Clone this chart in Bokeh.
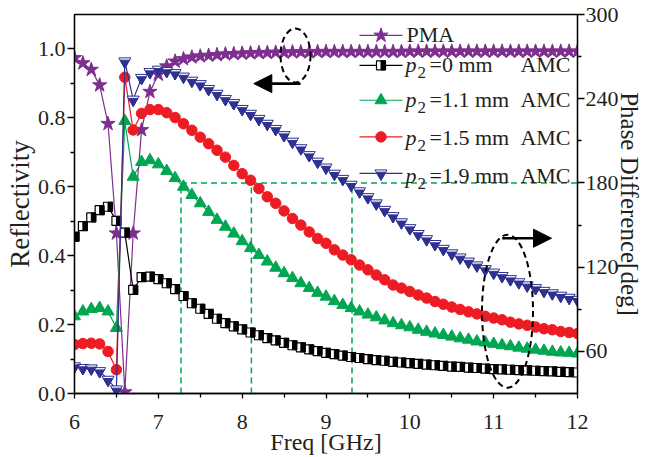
from math import sqrt

from bokeh.plotting import figure
from bokeh.models import (Range1d, LinearAxis, FixedTicker, PrintfTickFormatter,
                          Label, Arrow, NormalHead)
from bokeh.embed import file_html
from bokeh.resources import INLINE

# ---------------------------------------------------------------- data
freq = [6.0, 6.1, 6.2, 6.3, 6.4, 6.5, 6.6, 6.7, 6.8, 6.9,
        7.0, 7.1, 7.2, 7.3, 7.4, 7.5, 7.6, 7.7, 7.8, 7.9,
        8.0, 8.1, 8.2, 8.3, 8.4, 8.5, 8.6, 8.7, 8.8, 8.9,
        9.0, 9.1, 9.2, 9.3, 9.4, 9.5, 9.6, 9.7, 9.8, 9.9,
        10.0, 10.1, 10.2, 10.3, 10.4, 10.5, 10.6, 10.7, 10.8, 10.9,
        11.0, 11.1, 11.2, 11.3, 11.4, 11.5, 11.6, 11.7, 11.8, 11.9,
        12.0]

# reflectivity of the polarisation-mismatch absorber
pma = [0.974, 0.959, 0.940, 0.895, 0.783, 0.465, 0.004, 0.465, 0.765, 0.876,
       0.926, 0.950, 0.964, 0.971, 0.976, 0.979, 0.981, 0.983, 0.985, 0.986,
       0.987, 0.988, 0.989, 0.989, 0.990, 0.990, 0.991, 0.991, 0.991, 0.992,
       0.992, 0.992, 0.992, 0.992, 0.992, 0.992, 0.992, 0.992, 0.992, 0.992,
       0.993, 0.993, 0.993, 0.993, 0.993, 0.993, 0.993, 0.993, 0.993, 0.993,
       0.993, 0.993, 0.993, 0.993, 0.993, 0.993, 0.993, 0.993, 0.993, 0.993,
       0.993]

# AMC, p2 = 0 mm
amc_00 = [0.455, 0.486, 0.511, 0.532, 0.542, 0.501, 0.467, 0.301, 0.338, 0.339,
          0.332, 0.320, 0.303, 0.283, 0.262, 0.246, 0.231, 0.217, 0.204, 0.195,
          0.186, 0.177, 0.169, 0.161, 0.154, 0.147, 0.140, 0.134, 0.128, 0.123,
          0.118, 0.114, 0.110, 0.106, 0.103, 0.100, 0.097, 0.095, 0.092, 0.090,
          0.088, 0.086, 0.084, 0.082, 0.080, 0.078, 0.077, 0.075, 0.074, 0.072,
          0.071, 0.070, 0.069, 0.068, 0.067, 0.066, 0.065, 0.064, 0.063, 0.062,
          0.061]

# AMC, p2 = 1.1 mm
amc_11 = [0.224, 0.238, 0.245, 0.248, 0.238, 0.190, 0.791, 0.629, 0.672, 0.677,
          0.665, 0.646, 0.625, 0.600, 0.576, 0.552, 0.527, 0.504, 0.484, 0.464,
          0.442, 0.422, 0.402, 0.383, 0.365, 0.349, 0.335, 0.320, 0.306, 0.292,
          0.281, 0.268, 0.257, 0.248, 0.238, 0.229, 0.221, 0.212, 0.204, 0.198,
          0.192, 0.185, 0.179, 0.174, 0.170, 0.165, 0.160, 0.156, 0.151, 0.148,
          0.144, 0.140, 0.137, 0.133, 0.130, 0.127, 0.124, 0.121, 0.119, 0.118,
          0.116]

# AMC, p2 = 1.5 mm
amc_15 = [0.142, 0.145, 0.146, 0.144, 0.122, 0.069, 0.918, 0.765, 0.813, 0.824,
          0.824, 0.815, 0.801, 0.783, 0.764, 0.744, 0.725, 0.706, 0.686, 0.662,
          0.638, 0.619, 0.595, 0.571, 0.552, 0.530, 0.508, 0.489, 0.469, 0.450,
          0.436, 0.417, 0.402, 0.388, 0.373, 0.359, 0.344, 0.330, 0.315, 0.306,
          0.296, 0.286, 0.277, 0.267, 0.259, 0.251, 0.244, 0.237, 0.231, 0.224,
          0.219, 0.214, 0.207, 0.202, 0.198, 0.193, 0.188, 0.185, 0.180, 0.177,
          0.174]

# AMC, p2 = 1.9 mm
amc_19 = [0.079, 0.074, 0.073, 0.065, 0.040, 0.012, 0.964, 0.853, 0.916, 0.933,
          0.940, 0.936, 0.930, 0.920, 0.908, 0.898, 0.884, 0.870, 0.855, 0.843,
          0.826, 0.812, 0.797, 0.783, 0.768, 0.750, 0.731, 0.712, 0.692, 0.673,
          0.656, 0.638, 0.623, 0.606, 0.587, 0.570, 0.552, 0.533, 0.515, 0.497,
          0.480, 0.463, 0.448, 0.434, 0.420, 0.407, 0.395, 0.383, 0.372, 0.361,
          0.351, 0.341, 0.332, 0.323, 0.314, 0.306, 0.298, 0.291, 0.284, 0.278,
          0.272]

# 180 degree phase-difference guide and the frequencies where each AMC reaches it
guide_phase = 180
guide_freqs = [7.27, 8.11, 9.31]

x_ticks = [6, 7, 8, 9, 10, 11, 12]
x_minor = [6.5, 7.5, 8.5, 9.5, 10.5, 11.5]
y_ticks = [0.0, 0.2, 0.4, 0.6, 0.8, 1.0]
y_minor = [0.1, 0.3, 0.5, 0.7, 0.9]
phase_ticks = [60, 120, 180, 240, 300]
phase_minor = [90, 150, 210, 270]

# ---------------------------------------------------------------- style
TEXT = "#231F20"
PURPLE = "#7E2F8E"
GREEN = "#00A651"
RED = "#ED1C24"
NAVY = "#2E3192"
SERIF = "Liberation Serif"

W, H = 645, 457
ML, MR, MT, MB = 74, 68, 14, 63
X0, X1 = 6, 12
Y0, Y1 = 0, 1.1
P0, P1 = 30, 300

FW = W - ML - MR
FH = H - MT - MB
PX_X = FW / (X1 - X0)
PX_Y = FH / (Y1 - Y0)


def dx(px):
    return px / PX_X


def dy(px):
    return px / PX_Y


def at_x(px):
    """canvas pixel column -> frequency (used for annotation placement)"""
    return X0 + (px - ML) / PX_X


def at_y(py):
    """canvas pixel row -> reflectivity (used for annotation placement)"""
    return Y1 - (py - MT) / PX_Y


p = figure(width=W, height=H, x_range=Range1d(X0, X1), y_range=Range1d(Y0, Y1),
           output_backend="svg", toolbar_location=None,
           min_border_left=ML, min_border_right=MR,
           min_border_top=MT, min_border_bottom=MB)
p.extra_y_ranges = {"phase": Range1d(P0, P1)}
p.grid.visible = False
p.outline_line_color = "black"
p.outline_line_width = 1.3
p.background_fill_color = "white"
p.border_fill_color = "white"


def style_axis(ax, label_size):
    ax.axis_line_color = "black"
    ax.axis_line_width = 1.3
    ax.major_tick_line_color = "black"
    ax.major_tick_line_width = 1.3
    ax.minor_tick_line_color = "black"
    ax.minor_tick_line_width = 1.3
    ax.major_label_text_font = SERIF
    ax.major_label_text_font_size = "22px"
    ax.major_label_text_color = TEXT
    ax.axis_label_text_font = SERIF
    ax.axis_label_text_font_size = label_size
    ax.axis_label_text_font_style = "normal"
    ax.axis_label_text_color = TEXT


xa = p.xaxis[0]
xa.ticker = FixedTicker(ticks=x_ticks, minor_ticks=x_minor)
xa.axis_label = "Freq [GHz]"
style_axis(xa, "24px")
xa.major_tick_in, xa.major_tick_out = 0, 5
xa.minor_tick_in, xa.minor_tick_out = 0, 4
xa.major_label_standoff = 16
xa.axis_label_standoff = -3

ya = p.yaxis[0]
ya.ticker = FixedTicker(ticks=y_ticks, minor_ticks=y_minor)
ya.formatter = PrintfTickFormatter(format="%.1f")
ya.axis_label = "Reflectivity"
style_axis(ya, "27px")
ya.major_tick_in, ya.major_tick_out = 0, 7
ya.minor_tick_in, ya.minor_tick_out = 0, 4
ya.major_label_standoff = 2
ya.axis_label_standoff = 0

ra = LinearAxis(y_range_name="phase",
                ticker=FixedTicker(ticks=phase_ticks, minor_ticks=phase_minor),
                axis_label="Phase Difference[deg]")
style_axis(ra, "25px")
ra.major_tick_in, ra.major_tick_out = 0, 7
ra.minor_tick_in, ra.minor_tick_out = 0, 4
ra.major_label_standoff = 1
ra.axis_label_standoff = -6
p.add_layout(ra, "right")

# ---------------------------------------------------------------- guides
GUIDE = dict(line_color=GREEN, line_width=1.5, line_dash="6 4", y_range_name="phase")
p.segment(x0=guide_freqs, y0=[P0] * len(guide_freqs), x1=guide_freqs,
          y1=[guide_phase] * len(guide_freqs), **GUIDE)
p.segment(x0=[guide_freqs[0]], y0=[guide_phase], x1=[X1], y1=[guide_phase], **GUIDE)


# ---------------------------------------------------------------- markers
def stars(xs, ys):
    p.scatter(xs, ys, marker="star", size=15, fill_color=PURPLE,
              line_color=PURPLE, line_width=1)


def half_squares(xs, ys, size=9):
    p.scatter(xs, ys, marker="square", size=size, fill_color="white",
              line_color="black", line_width=1.2)
    p.rect([x + dx(size / 4) for x in xs], ys, width=size / 2, height=size,
           width_units="screen", height_units="screen",
           fill_color="black", line_color="black", line_width=1)


def triangles(xs, ys):
    p.scatter(xs, ys, marker="triangle", size=12, fill_color=GREEN,
              line_color=GREEN, line_width=1)


def circles(xs, ys):
    p.scatter(xs, ys, marker="circle", size=10.5, fill_color=RED,
              line_color=RED, line_width=1)


def half_inv_triangles(xs, ys, size=12, k=0.78):
    p.scatter(xs, ys, marker="inverted_triangle", size=size, fill_color="white",
              line_color=NAVY, line_width=1)
    off = (1 - k) * size / sqrt(3)
    p.scatter(xs, [y - dy(off) for y in ys], marker="inverted_triangle",
              size=size * k, fill_color=NAVY, line_color=NAVY, line_width=1)


series = [
    (pma, PURPLE, stars),
    (amc_00, "black", half_squares),
    (amc_11, GREEN, triangles),
    (amc_15, RED, circles),
    (amc_19, NAVY, half_inv_triangles),
]

for ys, color, draw in series:
    p.line(freq, ys, line_color=color, line_width=1.2)
    draw(freq, ys)

# ---------------------------------------------------------------- legend
LEG_X0, LEG_X1, LEG_MID = 359, 402, 380.5
legend_rows = [
    # (glyph row, text centre row, colour, marker, value text)
    (35.0, 34.5, PURPLE, stars, None),
    (65.0, 64.0, "black", half_squares, "=0 mm"),
    (100.0, 99.5, GREEN, triangles, "=1.1 mm"),
    (136.7, 137.0, RED, circles, "=1.5 mm"),
    (173.3, 175.0, NAVY, half_inv_triangles, "=1.9 mm"),
]

FONT = dict(text_font=SERIF, text_color=TEXT, text_baseline="middle")

for gy, mid, color, draw, text in legend_rows:
    p.segment(x0=[at_x(LEG_X0)], y0=[at_y(gy)], x1=[at_x(LEG_X1)], y1=[at_y(gy)],
              line_color=color, line_width=1.2)
    draw([at_x(LEG_MID)], [at_y(gy)])
    if text is None:
        p.add_layout(Label(x=at_x(406), y=at_y(mid), text="PMA",
                           text_font_size="22px", **FONT))
        continue
    p.add_layout(Label(x=at_x(405), y=at_y(mid), text="p",
                       text_font_size="22px", text_font_style="italic", **FONT))
    p.add_layout(Label(x=at_x(417), y=at_y(mid + 8), text="2",
                       text_font_size="17px", **FONT))
    p.add_layout(Label(x=at_x(429), y=at_y(mid), text=text,
                       text_font_size="22px", **FONT))
    p.add_layout(Label(x=at_x(570), y=at_y(mid), text="AMC", text_align="right",
                       text_font_size="22px", **FONT))

# ---------------------------------------------------------------- callouts
ELLIPSE = dict(fill_color=None, line_color="black", line_width=2, line_dash="6 4",
               width_units="screen", height_units="screen")
p.ellipse(x=[at_x(295)], y=[at_y(55)], width=[30], height=[54], **ELLIPSE)
p.ellipse(x=[at_x(507)], y=[at_y(311.5)], width=[51], height=[153], **ELLIPSE)

for x_start, x_end, yy in [(300, 253.3, 83.3), (501.7, 551, 238.3)]:
    p.add_layout(Arrow(end=NormalHead(size=18, fill_color="black", line_color="black",
                                      line_width=1),
                       x_start=at_x(x_start), y_start=at_y(yy),
                       x_end=at_x(x_end), y_end=at_y(yy),
                       line_color="black", line_width=2.6))

open("out.html", "w").write(file_html(p, INLINE, title="Reflectivity and phase difference"))
